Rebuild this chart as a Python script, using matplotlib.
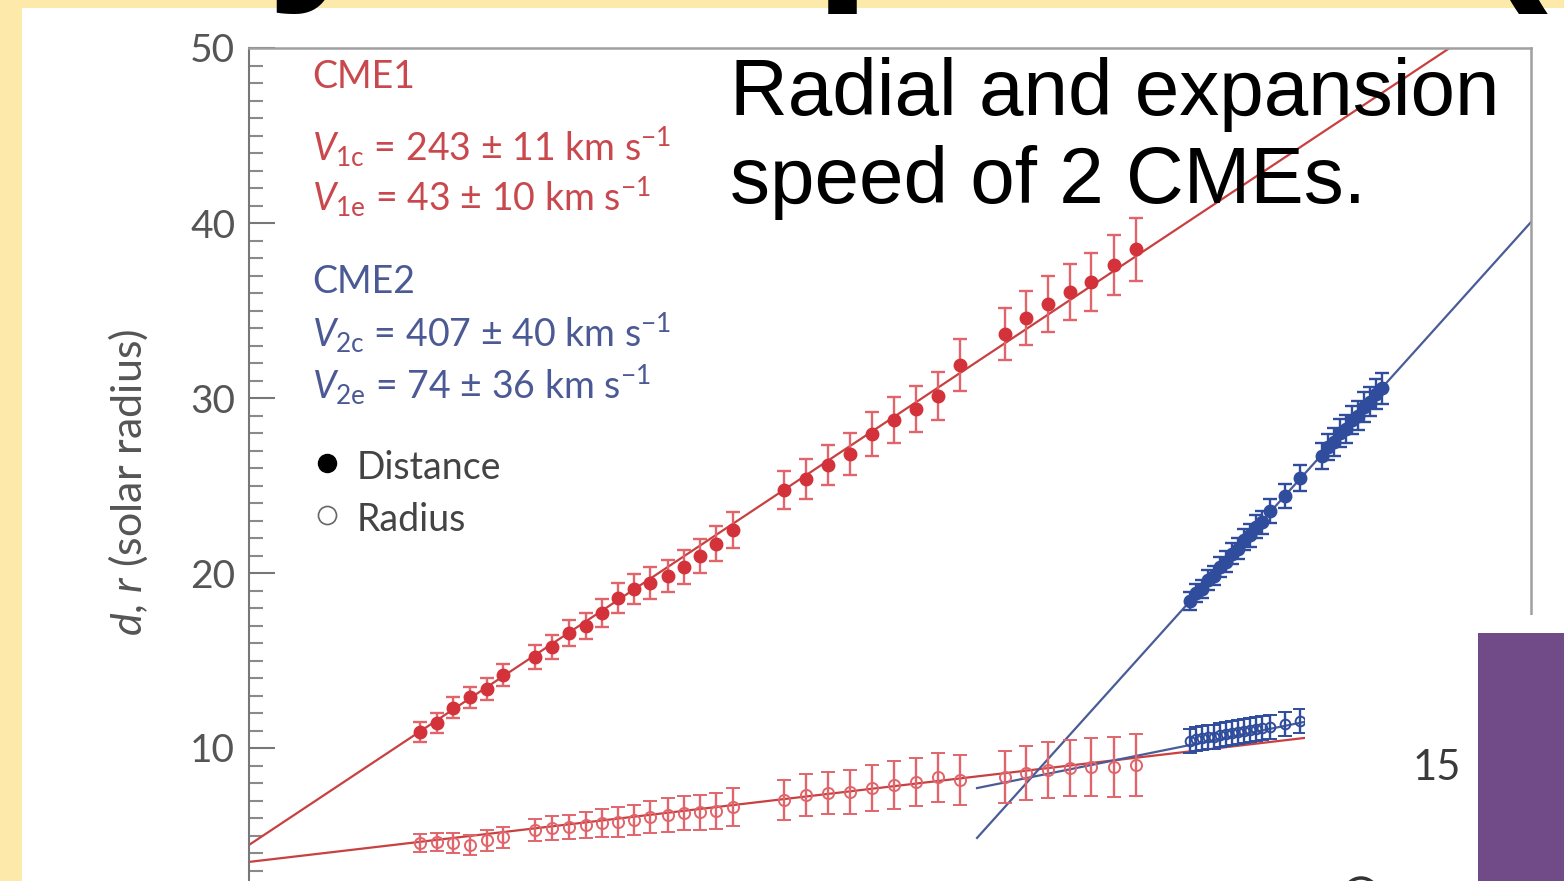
import matplotlib

matplotlib.use("Agg")
import matplotlib.pyplot as plt
from matplotlib.lines import Line2D
from matplotlib.patches import Ellipse, Rectangle
from matplotlib.ticker import MultipleLocator

W, H = 1564, 881
R_SUN_KM = 6.957e5
KMS_TO_RSUN_H = 3600.0 / R_SUN_KM

# CME1: time (h), leading-edge distance and radius (solar radii)
t1 = [5.16, 5.67, 6.15, 6.67, 7.18, 7.66, 8.63, 9.14, 9.65, 10.17, 10.65, 11.13,
      11.61, 12.10, 12.64, 13.12, 13.60, 14.09, 14.60, 16.14, 16.80, 17.47, 18.13,
      18.79, 19.46, 20.12, 20.78, 21.45, 22.81, 23.44, 24.10, 24.77, 25.40, 26.09, 26.76]
d1 = [10.91, 11.43, 12.29, 12.91, 13.37, 14.17, 15.20, 15.77, 16.57, 16.97, 17.71,
      18.57, 19.09, 19.43, 19.83, 20.34, 20.97, 21.66, 22.46, 24.74, 25.37, 26.17,
      26.80, 27.94, 28.74, 29.37, 30.11, 31.89, 33.66, 34.57, 35.37, 36.06, 36.63,
      37.60, 38.51]
d1_err = [0.55, 0.55, 0.6, 0.6, 0.65, 0.65, 0.7, 0.7, 0.75, 0.75, 0.8, 0.85, 0.85,
          0.9, 0.9, 0.95, 0.95, 1.0, 1.05, 1.1, 1.15, 1.15, 1.2, 1.25, 1.3, 1.3, 1.35,
          1.5, 1.5, 1.55, 1.6, 1.6, 1.65, 1.7, 1.8]
r1 = [4.57, 4.63, 4.57, 4.46, 4.74, 4.91, 5.31, 5.43, 5.49, 5.60, 5.71, 5.77, 5.89,
      6.06, 6.17, 6.29, 6.34, 6.40, 6.63, 7.03, 7.31, 7.43, 7.49, 7.71, 7.89, 8.06,
      8.34, 8.17, 8.34, 8.57, 8.74, 8.86, 8.91, 8.91, 9.03]
r1_err = [0.5, 0.5, 0.55, 0.55, 0.6, 0.6, 0.65, 0.7, 0.7, 0.75, 0.8, 0.85, 0.85, 0.9,
          0.95, 0.95, 1.0, 1.05, 1.1, 1.15, 1.2, 1.2, 1.25, 1.3, 1.35, 1.35, 1.4, 1.45,
          1.5, 1.55, 1.6, 1.6, 1.65, 1.7, 1.75]

# CME2
t2 = [28.39, 28.57, 28.75, 28.93, 29.11, 29.29, 29.47, 29.65, 29.83, 30.02, 30.20,
      30.38, 30.56, 30.80, 31.25, 31.70, 32.37, 32.55, 32.73, 32.91, 33.09, 33.27,
      33.45, 33.63, 33.82, 34.00, 34.18]
d2 = [18.40, 18.85, 19.10, 19.60, 19.85, 20.35, 20.65, 21.10, 21.40, 21.90, 22.15,
      22.65, 22.90, 23.55, 24.40, 25.45, 26.70, 27.20, 27.50, 28.00, 28.25, 28.75,
      29.00, 29.50, 29.80, 30.25, 30.55]
d2_err = [0.5, 0.5, 0.5, 0.55, 0.55, 0.55, 0.6, 0.6, 0.6, 0.6, 0.65, 0.65, 0.65, 0.7,
          0.7, 0.75, 0.75, 0.75, 0.8, 0.8, 0.8, 0.8, 0.85, 0.85, 0.85, 0.85, 0.9]
r2 = [10.40, 10.51, 10.57, 10.63, 10.63, 10.74, 10.80, 10.86, 10.91, 10.97, 11.03,
      11.09, 11.14, 11.20, 11.37, 11.54, 11.77, 11.83, 11.89, 11.94, 12.00, 12.06,
      12.11, 12.17, 12.23, 12.29, 12.34]
r2_err = [0.7] * len(t2)

# fitted speeds (km/s) and line anchors (t0 in h, value at t0 in solar radii)
v1c, v1e, v2c, v2e = 243, 43, 407, 74
fit_anchor = {
    "d1": (0.0, 4.46),
    "r1": (0.0, 3.49),
    "d2": (21.96, 4.86),
    "r2": (21.96, 7.71),
}
T_MAX = 38.67

RED = "#d3323a"
RED_LINE = "#c8403f"
RED_LIGHT = "#e0646a"
BLUE = "#2f4d9c"
BLUE_LINE = "#4a5c98"
RED_TXT = "#c9484d"
BLUE_TXT = "#4b5a94"

plt.rcParams["font.family"] = ["Lato", "DejaVu Sans"]
plt.rcParams["mathtext.fontset"] = "custom"
plt.rcParams["mathtext.rm"] = "Lato"
plt.rcParams["mathtext.it"] = "Lato:italic"


def fx(px):
    return px / W


def fy(py):
    return 1.0 - py / H


fig = plt.figure(figsize=(W / 100, H / 100), dpi=100, facecolor="#fde9a9")
fig.add_artist(Rectangle((fx(22), 0), 1.0, fy(8), transform=fig.transFigure,
                         facecolor="white", edgecolor="none", zorder=-10))

ax = fig.add_axes([fx(249), fy(923), fx(1531) - fx(249), fy(48) - fy(923)])
ax.set_xlim(0, T_MAX)
ax.set_ylim(0, 50)


def fit_line(key, v_kms):
    t0, y0 = fit_anchor[key]
    slope = v_kms * KMS_TO_RSUN_H
    return [t0, T_MAX], [y0, y0 + slope * (T_MAX - t0)]


x, y = fit_line("d1", v1c)
ax.plot(x, y, color=RED_LINE, lw=1.6, zorder=2)
x, y = fit_line("r1", v1e)
ax.plot(x, y, color=RED_LINE, lw=1.6, zorder=2)
x, y = fit_line("d2", v2c)
ax.plot(x, y, color=BLUE_LINE, lw=1.6, zorder=2)
x, y = fit_line("r2", v2e)
ax.plot(x, y, color=BLUE_LINE, lw=1.6, zorder=2)

eb = dict(fmt="o", elinewidth=1.7, capsize=5, capthick=1.7, zorder=3)
ax.errorbar(t1, d1, yerr=d1_err, ms=9, color=RED, ecolor=RED_LIGHT, **eb)
ax.errorbar(t1, r1, yerr=r1_err, ms=8, mfc="none", mec=RED_LIGHT, mew=1.4,
            color=RED_LIGHT, ecolor=RED_LIGHT, **eb)
ax.errorbar(t2, d2, yerr=d2_err, ms=9, color=BLUE, ecolor=BLUE, **eb)
ax.errorbar(t2, r2, yerr=r2_err, ms=7, mfc="none", mec=BLUE, mew=1.4,
            color=BLUE, ecolor=BLUE, **eb)

ax.set_yticks([10, 20, 30, 40, 50])
ax.yaxis.set_minor_locator(MultipleLocator(1))
ax.tick_params(axis="y", which="major", direction="in", length=19, width=1.5,
               color="#777777", labelsize=28, labelcolor="#555555", pad=10)
ax.tick_params(axis="y", which="minor", direction="in", length=10, width=1.5,
               color="#8a8a8a")
ax.tick_params(axis="x", which="both", bottom=False, labelbottom=False)
ax.spines["left"].set_color("#777777")
ax.spines["left"].set_linewidth(1.5)
for side in ("top", "right"):
    ax.spines[side].set_color("#a0a0a0")
    ax.spines[side].set_linewidth(1.8)
ax.spines["bottom"].set_visible(False)

fig.text(fx(128), fy(482), r"$d$, $r$ (solar radius)", rotation=90, ha="center",
         va="center", fontsize=31, color="#555555")

# annotation block
txt = dict(ha="left", va="center", fontsize=27)
fig.text(fx(312), fy(77), "CME1", color=RED_TXT, **txt)
fig.text(fx(312), fy(147), r"$V_{\rm 1c}$ = 243 ± 11 km s$^{-1}$", color=RED_TXT, **txt)
fig.text(fx(312), fy(197), r"$V_{\rm 1e}$ = 43 ± 10 km s$^{-1}$", color=RED_TXT, **txt)
fig.text(fx(312), fy(282), "CME2", color=BLUE_TXT, **txt)
fig.text(fx(312), fy(333), r"$V_{\rm 2c}$ = 407 ± 40 km s$^{-1}$", color=BLUE_TXT, **txt)
fig.text(fx(312), fy(385), r"$V_{\rm 2e}$ = 74 ± 36 km s$^{-1}$", color=BLUE_TXT, **txt)

fig.add_artist(Line2D([fx(327)], [fy(463)], marker="o", ms=13, color="black",
                      transform=fig.transFigure))
fig.add_artist(Line2D([fx(327)], [fy(515)], marker="o", ms=13, mfc="white",
                      mec="#666666", mew=1.2, transform=fig.transFigure))
fig.text(fx(357), fy(468), "Distance", color="#444444", **txt)
fig.text(fx(357), fy(520), "Radius", color="#444444", **txt)

fig.text(fx(730), fy(115), "Radial and expansion", ha="left", va="baseline",
         fontsize=57.6, family="Liberation Sans", color="black", zorder=8)
fig.text(fx(730), fy(203), "speed of 2 CMEs.", ha="left", va="baseline",
         fontsize=57.6, family="Liberation Sans", color="black", zorder=8)

# slide title above the chart
fig.text(fx(-200), fy(-30), "Study of speeds (", ha="left", va="baseline",
         fontsize=151, fontweight="bold", family="Liberation Sans", color="black",
         zorder=10)

# neighbouring slide object over the lower right corner
fig.add_artist(Rectangle((fx(1305), 0), 1.0, fy(615), transform=fig.transFigure,
                         facecolor="white", edgecolor="none", zorder=5))
fig.add_artist(Rectangle((fx(1478), 0), 1.0, fy(633), transform=fig.transFigure,
                         facecolor="#714a88", edgecolor="none", zorder=6))
fig.text(fx(1461), fy(768), "15", ha="right", va="center", fontsize=30,
         color="#3a3a3a", zorder=7)
fig.add_artist(Ellipse((fx(1361), fy(895)), 34 / W, 34 / H, transform=fig.transFigure,
                       facecolor="none", edgecolor="#333333", lw=2.5, zorder=6))

fig.savefig("out.png", dpi=100)
